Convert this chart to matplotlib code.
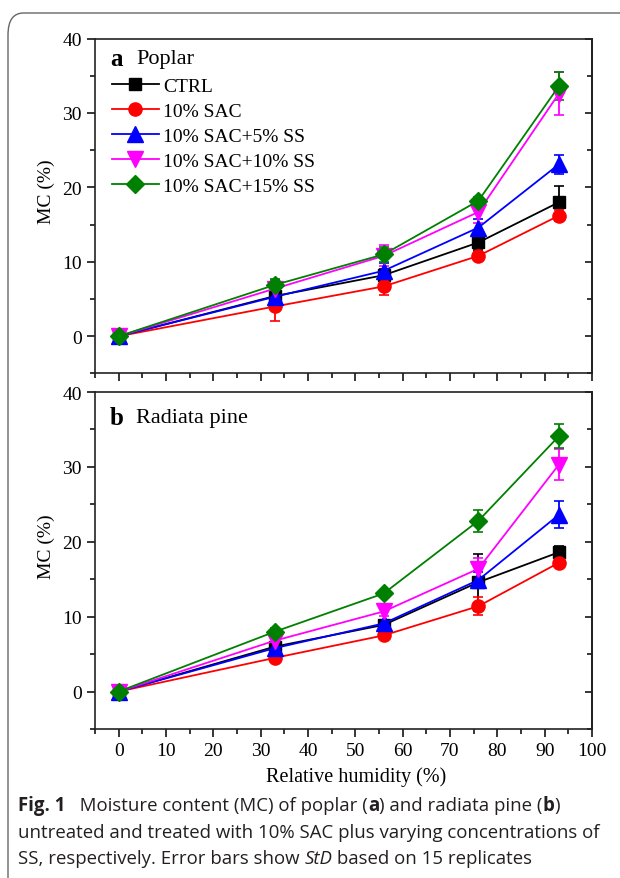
import matplotlib
matplotlib.use("Agg")
import matplotlib.pyplot as plt
from matplotlib.patches import FancyBboxPatch
from matplotlib.lines import Line2D
from matplotlib.ticker import MultipleLocator

# Relative humidity levels (%)
rh = [0, 33, 56, 76, 93]

labels = ["CTRL", "10% SAC", "10% SAC+5% SS", "10% SAC+10% SS", "10% SAC+15% SS"]
colors = ["black", "red", "blue", "magenta", "green"]
markers = ["s", "o", "^", "v", "D"]
msizes = [9, 9.5, 11, 11, 9]

# Panel a: Poplar, moisture content (%) and StD
poplar_mc = [
    [0, 5.4, 8.2, 12.6, 18.0],
    [0, 4.0, 6.7, 10.8, 16.2],
    [0, 5.3, 8.8, 14.6, 23.1],
    [0, 6.4, 10.8, 16.7, 32.6],
    [0, 6.9, 11.0, 18.2, 33.6],
]
poplar_sd = [
    [0.3, 1.3, 0.8, 1.0, 2.2],
    [0.3, 1.9, 1.2, 0.5, 0.7],
    [0.3, 1.0, 1.0, 1.1, 1.3],
    [0.3, 1.2, 1.4, 1.5, 2.9],
    [0.3, 0.8, 1.0, 0.5, 1.9],
]

# Panel b: Radiata pine
pine_mc = [
    [0, 6.0, 8.9, 14.6, 18.6],
    [0, 4.5, 7.5, 11.4, 17.2],
    [0, 5.8, 9.1, 14.9, 23.6],
    [0, 6.8, 10.7, 16.4, 30.3],
    [0, 8.0, 13.1, 22.8, 34.1],
]
pine_sd = [
    [0.3, 0.5, 0.5, 3.8, 0.9],
    [0.3, 0.4, 0.5, 1.2, 0.3],
    [0.3, 0.5, 0.5, 1.0, 1.8],
    [0.3, 0.6, 0.6, 1.5, 2.1],
    [0.3, 0.5, 0.5, 1.5, 1.6],
]

# caption runs: (text, weight, style)
caption_lines = [
    [("Fig. 1", "bold", "normal"), ("   Moisture content (MC) of poplar (", "normal", "normal"),
     ("a", "bold", "normal"), (") and radiata pine (", "normal", "normal"),
     ("b", "bold", "normal"), (")", "normal", "normal")],
    [("untreated and treated with 10% SAC plus varying concentrations of", "normal", "normal")],
    [("SS, respectively. Error bars show ", "normal", "normal"), ("StD", "normal", "italic"),
     (" based on 15 replicates", "normal", "normal")],
]

plt.rcParams["font.family"] = "Liberation Serif"

fig = plt.figure(figsize=(6.2, 8.79), dpi=100)

# rounded frame around figure
frame = FancyBboxPatch((8 / 620, -0.2), 1.2, 1 - 14 / 879 + 0.2,
                       boxstyle="round,pad=0,rounding_size=0.025",
                       transform=fig.transFigure, facecolor="none",
                       edgecolor="#666666", linewidth=1.0, zorder=0)
fig.patches.append(frame)

ax_a = fig.add_axes([0.1532, 0.574, 0.8016, 0.381])
ax_b = fig.add_axes([0.1532, 0.1695, 0.8016, 0.3834])


def draw_panel(ax, mc, sd):
    for i in range(len(labels)):
        ax.errorbar(rh, mc[i], yerr=sd[i], color=colors[i], marker=markers[i],
                    markersize=msizes[i], linewidth=1.3, elinewidth=1.3, capsize=3.5,
                    capthick=1.2)
    ax.set_xlim(-5, 100)
    ax.set_ylim(-5, 40)
    ax.xaxis.set_major_locator(MultipleLocator(10))
    ax.xaxis.set_minor_locator(MultipleLocator(5))
    ax.yaxis.set_major_locator(MultipleLocator(10))
    ax.yaxis.set_minor_locator(MultipleLocator(5))
    ax.tick_params(axis="both", which="major", direction="out", length=6,
                   width=1.1, labelsize=14, top=False, right=False)
    ax.tick_params(axis="both", which="minor", direction="out", length=3.5,
                   width=1.1, top=False, right=False)
    ax.set_ylabel("MC (%)", fontsize=14)
    ax.yaxis.set_label_coords(-0.097, 0.545)
    ax.yaxis.label.set_va("center")
    for s in ax.spines.values():
        s.set_linewidth(1.2)
        s.set_color("#222222")
    # inward ticks on the right side
    sec = ax.secondary_yaxis("right")
    sec.yaxis.set_major_locator(MultipleLocator(10))
    sec.yaxis.set_minor_locator(MultipleLocator(5))
    sec.tick_params(which="major", direction="in", length=5, width=1.1, labelright=False)
    sec.tick_params(which="minor", direction="in", length=3.5, width=1.1)
    sec.spines["right"].set_linewidth(1.2)


draw_panel(ax_a, poplar_mc, poplar_sd)
draw_panel(ax_b, pine_mc, pine_sd)

ax_a.tick_params(axis="x", labelbottom=False)
ax_b.set_xlabel("Relative humidity (%)", fontsize=14.5)
ax_b.xaxis.set_label_coords(0.525, -0.14)
ax_b.xaxis.label.set_va("center")

ax_a.text(0.03, 0.94, "a", transform=ax_a.transAxes, fontsize=18,
          fontweight="bold", va="center", ha="left")
ax_a.text(0.083, 0.94, "Poplar", transform=ax_a.transAxes, fontsize=16,
          va="center", ha="left")
ax_b.text(0.03, 0.925, "b", transform=ax_b.transAxes, fontsize=18,
          fontweight="bold", va="center", ha="left")
ax_b.text(0.083, 0.925, "Radiata pine", transform=ax_b.transAxes, fontsize=16,
          va="center", ha="left")

handles = [Line2D([], [], color=colors[i], marker=markers[i], markersize=msizes[i],
                  linewidth=1.3) for i in range(len(labels))]
ax_a.legend(handles, labels, loc="upper left", bbox_to_anchor=(0.034, 0.885),
            frameon=False, fontsize=14, handlelength=2.4, handletextpad=0.25,
            labelspacing=0.38, borderpad=0, borderaxespad=0)

# caption, drawn run by run
cap_color = "#231f20"
cap_font = "Open Sans"
cap_size = 13.4
renderer = fig.canvas.get_renderer()
line_y = [806, 833, 859]
for runs, yy in zip(caption_lines, line_y):
    x = 18 / 620
    for txt, weight, style in runs:
        t = fig.text(x, 1 - yy / 879, txt, fontsize=cap_size, family=cap_font,
                     fontweight=weight, fontstyle=style, color=cap_color,
                     va="center", ha="left")
        bb = t.get_window_extent(renderer)
        x = bb.x1 / fig.bbox.width

plt.savefig("out.png", dpi=100)
